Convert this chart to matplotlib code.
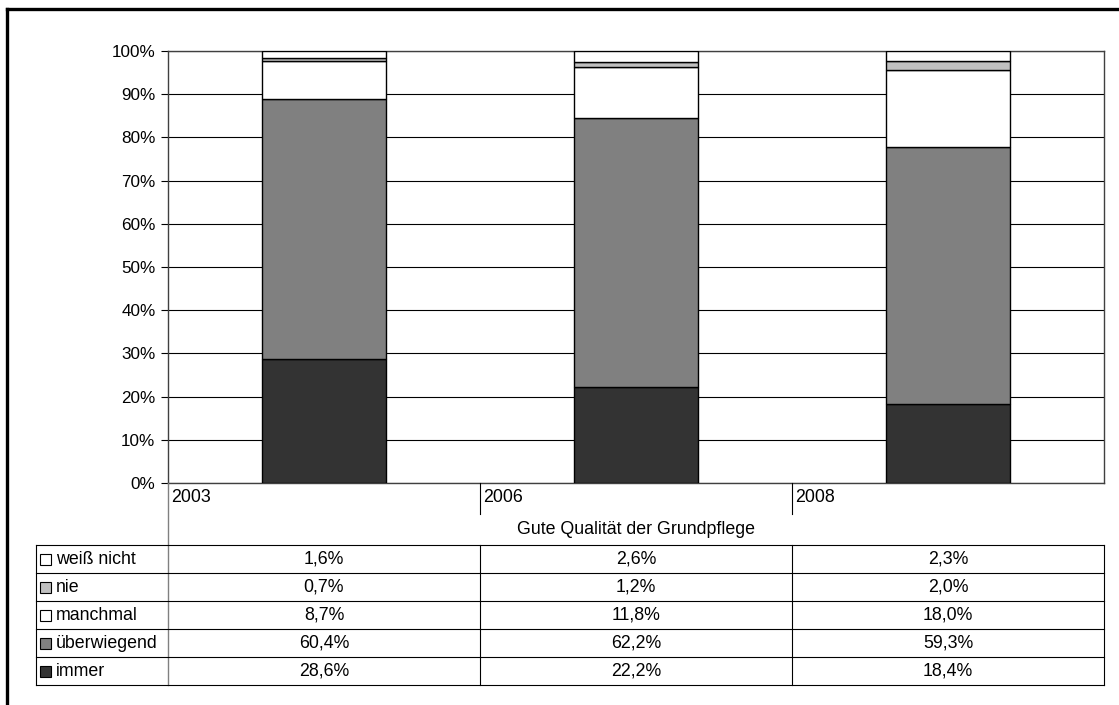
import matplotlib
matplotlib.use("Agg")
import matplotlib.pyplot as plt
from matplotlib.patches import Rectangle

plt.rcParams['font.family'] = ['Liberation Sans', 'DejaVu Sans']

years = ["2003", "2006", "2008"]
group_label = "Gute Qualität der Grundpflege"
series = ["immer", "überwiegend", "manchmal", "nie", "weiß nicht"]
immer = [28.6, 22.2, 18.4]
ueberwiegend = [60.4, 62.2, 59.3]
manchmal = [8.7, 11.8, 18.0]
nie = [0.7, 1.2, 2.0]
weiss_nicht = [1.6, 2.6, 2.3]
values = [immer, ueberwiegend, manchmal, nie, weiss_nicht]
colors = ["#333333", "#808080", "#ffffff", "#c0c0c0", "#ffffff"]
yticks = [0, 10, 20, 30, 40, 50, 60, 70, 80, 90, 100]

W, H = 1119, 705
fig = plt.figure(figsize=(W / 100, H / 100), dpi=100)
FS_TICK = 12.3
FS_TAB = 12.8

# plot area in pixels
L, R, T, B = 168, 1104, 51, 483
ax = fig.add_axes([L / W, 1 - B / H, (R - L) / W, (B - T) / H])
n = len(years)
x = list(range(n))
bottoms = [0.0] * n
for vals, col in zip(values, colors):
    ax.bar(x, vals, bottom=bottoms, width=0.4, color=col, edgecolor="black",
           linewidth=1.0, zorder=3)
    bottoms = [b + v for b, v in zip(bottoms, vals)]
ax.set_xlim(-0.5, n - 0.5)
ax.set_ylim(0, 100)
ax.set_yticks(yticks)
ax.set_yticklabels([f"{t}%" for t in yticks], fontsize=FS_TICK)
ax.tick_params(axis="y", length=5, width=0.8, pad=4, color="black")
ax.set_xticks([])
for t in yticks:
    ax.axhline(t, color="black", linewidth=0.8, zorder=1)
for s in ["left", "right", "top", "bottom"]:
    ax.spines[s].set_color("#404040")
    ax.spines[s].set_linewidth(1.0)

# overlay in pixel coordinates for table & frame
ov = fig.add_axes([0, 0, 1, 1])
ov.set_xlim(0, W)
ov.set_ylim(H, 0)
ov.axis("off")
ov.patch.set_alpha(0)

# figure frame (cropped)
ov.plot([7, 7], [9, H], color="black", linewidth=2.4)
ov.plot([7, W], [9, 9], color="black", linewidth=2.4)

colw = (R - L) / n
# category label row
ov.plot([L, L], [B, 685], color="#808080", linewidth=1.0)
for i, yr in enumerate(years):
    x0 = L + i * colw
    ov.text(x0 + 3, 497, yr, fontsize=FS_TAB, ha="left", va="center")
    if i > 0:
        ov.plot([x0, x0], [B, 514], color="black", linewidth=0.8)
ov.text(L + (R - L) / 2, 530, group_label, fontsize=FS_TAB, ha="center", va="center")

# data table
row_lines = [545, 573, 601, 629, 657, 685]
LL = 36
for yl in row_lines:
    ov.plot([LL, R], [yl, yl], color="black", linewidth=0.8)
ov.plot([LL, LL], [row_lines[0], row_lines[-1]], color="black", linewidth=0.8)
for i in range(1, n + 1):
    xx = L + i * colw
    ov.plot([xx, xx], [row_lines[0], row_lines[-1]], color="black", linewidth=0.8)

order = list(range(len(series)))[::-1]
for r, si in enumerate(order):
    yc = (row_lines[r] + row_lines[r + 1]) / 2
    ov.add_patch(Rectangle((40, yc - 5.5), 11, 11, facecolor=colors[si],
                           edgecolor="black", linewidth=0.8))
    ov.text(56, yc + 0.5, series[si], fontsize=FS_TAB, ha="left", va="center")
    for i in range(n):
        xc = L + (i + 0.5) * colw
        ov.text(xc, yc + 0.5, f"{values[si][i]:.1f}%".replace(".", ","),
                fontsize=FS_TAB, ha="center", va="center")

fig.savefig("out.png", dpi=100)
